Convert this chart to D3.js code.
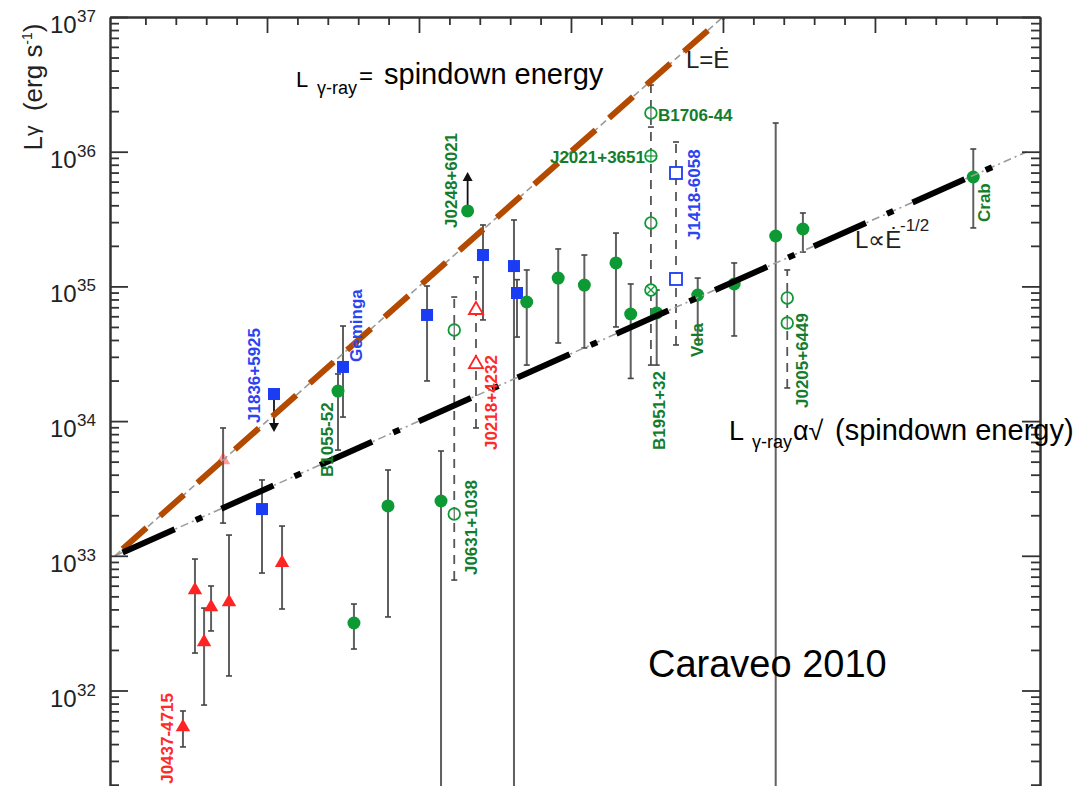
<!DOCTYPE html>
<html>
<head>
<meta charset="utf-8">
<script src="https://cdn.jsdelivr.net/npm/d3@7/dist/d3.min.js"></script>
<style>
  body { margin: 0; background: #fff; }
  text { font-family: "Liberation Sans", Arial, Helvetica, sans-serif; }
</style>
</head>
<body>
<div id="chart"></div>
<script>
// all values are log10 (Edot in erg/s, L in erg/s)
// [logEdot, logL, logL low, logL high]
const mspPoints = [
  [33.447, 31.729, 31.581, 31.848],
  [33.526, 32.746, 32.278, 32.976],
  [33.586, 32.360, 31.892, 32.612],
  [33.632, 32.620, 32.442, 32.776],
  [33.750, 32.657, 32.108, 33.154],
  [34.099, 32.947, 32.605, 33.221]
];
const mspFaint = [[33.711, 33.711, 33.243, 33.949]];

const quietPoints = [
  [33.967, 33.347, 32.872, 33.563],
  [34.500, 34.402, 34.030, 34.706],
  [35.053, 34.788, 34.298, 35.003],
  [35.421, 35.233, 34.751, 35.456],
  [35.625, 35.151, 30.000, 35.493],
  [35.645, 34.951, 34.624, 35.050]
];
const quietUpper = [[34.046, 34.201, 33.919]];   // J1836+5925, arrow down

const loudPoints = [
  [34.467, 34.223, 33.785, 34.350],
  [34.572, 32.501, 32.308, 32.642],
  [34.796, 33.370, 32.546, 33.637],
  [35.145, 33.407, 30.000, 33.778],
  [35.709, 34.884, 34.416, 35.122],
  [35.916, 35.062, 34.580, 35.278],
  [36.088, 35.010, 34.543, 35.233],
  [36.296, 35.174, 34.699, 35.396],
  [36.393, 34.795, 34.317, 35.018],
  [36.564, 34.803, 34.416, 34.973],
  [36.834, 34.936, 34.602, 35.062],
  [37.074, 35.018, 34.632, 35.174],
  [37.347, 35.374, 30.000, 36.213],
  [37.526, 35.426, 35.255, 35.545],
  [38.647, 35.812, 35.434, 36.020]
];
const loudLower = [[35.320, 35.560, 35.849]];    // J0248+6021, arrow up

// two distance estimates, dashed range
const dualRanges = [
  { kind: "loud", e: 35.232, lo: 32.820, hi: 34.921 },
  { kind: "msp", e: 35.375, lo: 33.949, hi: 35.070 },
  { kind: "loud", e: 36.526, lo: 34.416, hi: 36.495, mid: 36.183 },
  { kind: "quiet", e: 36.691, lo: 34.565, hi: 36.072 },
  { kind: "loud", e: 37.423, lo: 34.246, hi: 35.122 }
];
const dualMarks = [
  { kind: "loud", sym: "o", e: 35.232, l: 34.676 },
  { kind: "loud", sym: "o", e: 35.232, l: 33.310 },
  { kind: "msp", sym: "t", e: 35.375, l: 34.825 },
  { kind: "msp", sym: "t", e: 35.375, l: 34.424 },
  { kind: "loud", sym: "o", e: 36.526, l: 36.287 },
  { kind: "loud", sym: "+", e: 36.526, l: 35.968 },
  { kind: "loud", sym: "o", e: 36.526, l: 35.471 },
  { kind: "loud", sym: "x", e: 36.526, l: 34.973 },
  { kind: "quiet", sym: "s", e: 36.691, l: 35.842 },
  { kind: "quiet", sym: "s", e: 36.691, l: 35.055 },
  { kind: "loud", sym: "o", e: 37.423, l: 34.914 },
  { kind: "loud", sym: "o", e: 37.423, l: 34.728 }
];

// pulsar names: [name, kind, logEdot, logL, rotated?, anchor]
const names = [
  ["J0437-4715", "msp", 33.382, 31.981, true, "end"],
  ["J1836+5925", "quiet", 33.954, 33.986, true, "start"],
  ["Geminga", "quiet", 34.625, 34.439, true, "start"],
  ["B1055-52", "loud", 34.434, 33.585, true, "start"],
  ["J0248+6021", "loud", 35.250, 35.434, true, "start"],
  ["J0631+1038", "loud", 35.382, 32.857, true, "start"],
  ["J0218+4232", "msp", 35.513, 33.785, true, "start"],
  ["B1951+32", "loud", 36.618, 33.785, true, "start"],
  ["Vela", "loud", 36.868, 34.476, true, "start"],
  ["J1418-6058", "quiet", 36.849, 35.344, true, "start"],
  ["J0205+6449", "loud", 37.559, 34.097, true, "start"],
  ["Crab", "loud", 38.757, 35.478, true, "start"],
  ["B1706-44", "loud", 36.572, 36.228, false, "start"],
  ["J2021+3651", "loud", 36.487, 35.916, false, "end"]
];

const lineEqualRange = [33.0, 37.0];
const lineSqrtRange = [33.0, 39.0];
const lineSqrtThick = [33.05, 38.86];

const yMajor = [31, 32, 33, 34, 35, 36, 37];
const xMajor = [34, 35, 36, 37, 38];

const markColor = { msp: "#ff2424", quiet: "#1a3cf2", loud: "#0d9a34" };
const textColor = { msp: "#ff2a2a", quiet: "#2a44f0", loud: "#137d2d" };

const W = 1078, H = 786;
const pLeft = 110, pRight = 1040, pTop = 17, decade = 134.7;

const x = d3.scaleLinear().domain([32.967, 39.086]).range([pLeft, pRight]);
const y = d3.scaleLog().domain([1e31, 1e37]).range([pTop + 6 * decade, pTop]);
const Y = v => y(Math.pow(10, v));

const svg = d3.select("#chart").append("svg")
  .attr("width", W).attr("height", H);

svg.append("clipPath").attr("id", "plot")
  .append("rect").attr("x", pLeft).attr("y", pTop)
  .attr("width", pRight - pLeft).attr("height", H - pTop);

const plot = svg.append("g").attr("clip-path", "url(#plot)");

// error bars
function errBar(g, e, lo, hi, dashed) {
  const cx = x(e);
  g.append("line").attr("x1", cx).attr("x2", cx)
    .attr("y1", Y(lo)).attr("y2", Y(hi))
    .attr("stroke", dashed ? "#555" : "#606060")
    .attr("stroke-width", dashed ? 1.8 : 2)
    .attr("stroke-dasharray", dashed ? "9,7" : null);
  [lo, hi].forEach(v => {
    g.append("line").attr("x1", cx - 3).attr("x2", cx + 3)
      .attr("y1", Y(v)).attr("y2", Y(v))
      .attr("stroke", "#444").attr("stroke-width", 1.6);
  });
}

const bars = plot.append("g");
mspFaint.forEach(d => errBar(bars, d[0], d[2], d[3], false));
mspPoints.concat(quietPoints, loudPoints).forEach(d => errBar(bars, d[0], d[2], d[3], false));
dualRanges.forEach(d => {
  errBar(bars, d.e, d.lo, d.hi, true);
  if (d.mid) {
    bars.append("line").attr("x1", x(d.e) - 3).attr("x2", x(d.e) + 3)
      .attr("y1", Y(d.mid)).attr("y2", Y(d.mid))
      .attr("stroke", "#444").attr("stroke-width", 1.6);
  }
});

// arrows for limits
function arrow(g, e, from, to) {
  const cx = x(e), y0 = Y(from), y1 = Y(to);
  const dir = y1 < y0 ? -1 : 1;
  g.append("line").attr("x1", cx).attr("x2", cx)
    .attr("y1", y0).attr("y2", y1 - dir * 8)
    .attr("stroke", "#111").attr("stroke-width", 1.8);
  g.append("path")
    .attr("d", `M${cx - 5},${y1 - dir * 9} L${cx + 5},${y1 - dir * 9} L${cx},${y1} Z`)
    .attr("fill", "#111");
}
quietUpper.forEach(d => arrow(bars, d[0], d[1], d[2]));
loudLower.forEach(d => arrow(bars, d[0], d[1], d[2]));

const sym = (type, size) => d3.symbol().type(type).size(size)();
const marks = plot.append("g");

marks.selectAll(".faint").data(mspFaint).join("path")
  .attr("transform", d => `translate(${x(d[0])},${Y(d[1])})`)
  .attr("d", sym(d3.symbolTriangle, 90))
  .attr("fill", markColor.msp).attr("opacity", 0.45);

marks.selectAll(".msp").data(mspPoints).join("path")
  .attr("transform", d => `translate(${x(d[0])},${Y(d[1])})`)
  .attr("d", sym(d3.symbolTriangle, 90))
  .attr("fill", markColor.msp);

marks.selectAll(".quiet").data(quietPoints.concat(quietUpper)).join("rect")
  .attr("x", d => x(d[0]) - 6).attr("y", d => Y(d[1]) - 6)
  .attr("width", 12).attr("height", 12)
  .attr("fill", markColor.quiet);

marks.selectAll(".loud").data(loudPoints.concat(loudLower)).join("circle")
  .attr("cx", d => x(d[0])).attr("cy", d => Y(d[1])).attr("r", 6.5)
  .attr("fill", markColor.loud);

dualMarks.forEach(d => {
  const cx = x(d.e), cy = Y(d.l), c = markColor[d.kind];
  if (d.sym === "t") {
    marks.append("path").attr("transform", `translate(${cx},${cy})`)
      .attr("d", sym(d3.symbolTriangle, 85))
      .attr("fill", "#fff").attr("stroke", c).attr("stroke-width", 1.8);
  } else if (d.sym === "s") {
    marks.append("rect").attr("x", cx - 6).attr("y", cy - 6)
      .attr("width", 12).attr("height", 12)
      .attr("fill", "#fff").attr("stroke", c).attr("stroke-width", 1.8);
  } else {
    marks.append("circle").attr("cx", cx).attr("cy", cy).attr("r", 5.8)
      .attr("fill", "#fff").attr("stroke", c).attr("stroke-width", 1.8);
    if (d.sym === "+" || d.sym === "o") {
      marks.append("line").attr("x1", cx).attr("x2", cx)
        .attr("y1", cy - 5.8).attr("y2", cy + 5.8)
        .attr("stroke", d.sym === "+" ? c : "#666").attr("stroke-width", 1.2);
    }
    if (d.sym === "+") {
      marks.append("line").attr("x1", cx - 5.8).attr("x2", cx + 5.8)
        .attr("y1", cy).attr("y2", cy).attr("stroke", c).attr("stroke-width", 1.2);
    }
    if (d.sym === "x") {
      marks.append("path")
        .attr("d", `M${cx - 4},${cy - 4}L${cx + 4},${cy + 4}M${cx - 4},${cy + 4}L${cx + 4},${cy - 4}`)
        .attr("stroke", c).attr("stroke-width", 1.2);
    }
  }
});

// model lines
const line = d3.line().x(d => x(d[0])).y(d => Y(d[1]));
const equalPts = lineEqualRange.map(e => [e, e]);
const sqrtPts = lineSqrtRange.map(e => [e, 33 + (e - 33) / 2]);
const sqrtThickPts = lineSqrtThick.map(e => [e, 33 + (e - 33) / 2]);
const equalThickPts = [[33.05, 33.05], [37.0, 37.0]];

plot.append("path").attr("d", line(equalPts))
  .attr("stroke", "#9a9a9a").attr("stroke-width", 1.6)
  .attr("stroke-dasharray", "7,4").attr("fill", "none");
plot.append("path").attr("d", line(sqrtPts))
  .attr("stroke", "#9a9a9a").attr("stroke-width", 1.6)
  .attr("stroke-dasharray", "8,4,2,4").attr("fill", "none");
plot.append("path").attr("d", line(equalThickPts))
  .attr("stroke", "#b34a00").attr("stroke-width", 6)
  .attr("stroke-dasharray", "32,18").attr("fill", "none");
plot.append("path").attr("d", line(sqrtThickPts))
  .attr("stroke", "#000").attr("stroke-width", 6)
  .attr("stroke-dasharray", "57,23,7,21").attr("fill", "none");

// pulsar names
const labels = svg.append("g");
names.forEach(n => {
  const t = labels.append("text")
    .attr("fill", textColor[n[1]])
    .attr("font-size", 17).attr("font-weight", "bold")
    .attr("text-anchor", n[5])
    .text(n[0]);
  if (n[4]) t.attr("transform", `translate(${x(n[2])},${Y(n[3])}) rotate(-90)`);
  else t.attr("x", x(n[2])).attr("y", Y(n[3]));
});

// axes
const isMajor = t => Math.abs(Math.log10(t) - Math.round(Math.log10(t))) < 1e-6;
const yMinor = y.ticks().filter(t => !isMajor(t));
const yMaj = yMajor.map(e => Math.pow(10, e));
const xMinor = d3.range(33.2, 39.05, 0.2).filter(v => Math.abs(v - Math.round(v)) > 0.01);

const axisStyle = g => {
  g.selectAll("path.domain").attr("stroke", "#333").attr("stroke-width", 2);
  g.selectAll(".tick line").attr("stroke", "#333").attr("stroke-width", 1.8);
  g.selectAll(".tick text").remove();
};

[[yMaj, -18], [yMinor, -9]].forEach(([vals, size]) => {
  svg.append("g").attr("transform", `translate(${pLeft},0)`)
    .call(d3.axisLeft(y).tickValues(vals).tickSize(size).tickSizeOuter(0).tickFormat(""))
    .call(axisStyle);
  svg.append("g").attr("transform", `translate(${pRight},0)`)
    .call(d3.axisRight(y).tickValues(vals).tickSize(size).tickSizeOuter(0).tickFormat(""))
    .call(axisStyle);
});
[[xMajor, -16], [xMinor, -8]].forEach(([vals, size]) => {
  svg.append("g").attr("transform", `translate(0,${pTop})`)
    .call(d3.axisTop(x).tickValues(vals).tickSize(size).tickSizeOuter(0).tickFormat(""))
    .call(axisStyle);
});

// y tick labels 10^n
yMajor.forEach(e => {
  const ty = Y(e);
  if (ty > H) return;
  const t = svg.append("text").attr("fill", "#222");
  t.append("tspan").attr("x", 50).attr("y", ty + 16).attr("font-size", 24).text("10");
  t.append("tspan").attr("x", 77).attr("y", ty + 5).attr("font-size", 17).text(e);
});

// y axis title
const yt = svg.append("text").attr("fill", "#222")
  .attr("transform", "translate(42,87) rotate(-90)")
  .attr("text-anchor", "middle");
yt.append("tspan").attr("font-size", 26).text("L");
yt.append("tspan").attr("font-size", 21).attr("dy", -3).text("γ");
yt.append("tspan").attr("font-size", 26).attr("dy", 3).text("\u00a0\u00a0(erg s");
yt.append("tspan").attr("font-size", 14).attr("dy", -10).text("-1");
yt.append("tspan").attr("font-size", 26).attr("dy", 10).text(")");

// annotations
const a1 = svg.append("text").attr("fill", "#000");
a1.append("tspan").attr("x", 296).attr("y", 87).attr("font-size", 22).text("L");
a1.append("tspan").attr("x", 317).attr("y", 94).attr("font-size", 18).text("γ-ray");
a1.append("tspan").attr("x", 359).attr("y", 84).attr("font-size", 24).text("=");
a1.append("tspan").attr("x", 384).attr("y", 84).attr("font-size", 29).text("spindown energy");

svg.append("text").attr("x", 686).attr("y", 68).attr("font-size", 24)
  .attr("fill", "#222").text("L=Ė");

const a2 = svg.append("text").attr("fill", "#222");
a2.append("tspan").attr("x", 855).attr("y", 248).attr("font-size", 24).text("L∝Ė");
a2.append("tspan").attr("x", 900).attr("y", 231).attr("font-size", 17).text("-1/2");

const a3 = svg.append("text").attr("fill", "#000");
a3.append("tspan").attr("x", 729).attr("y", 440).attr("font-size", 27).text("L");
a3.append("tspan").attr("x", 752).attr("y", 448).attr("font-size", 18).text("γ-ray");
a3.append("tspan").attr("x", 793).attr("y", 440).attr("font-size", 27).text("α√");
a3.append("tspan").attr("x", 835).attr("y", 440).attr("font-size", 29).text("(spindown energy)");

svg.append("text").attr("x", 648).attr("y", 677).attr("font-size", 38)
  .attr("fill", "#000").text("Caraveo 2010");
</script>
</body>
</html>
